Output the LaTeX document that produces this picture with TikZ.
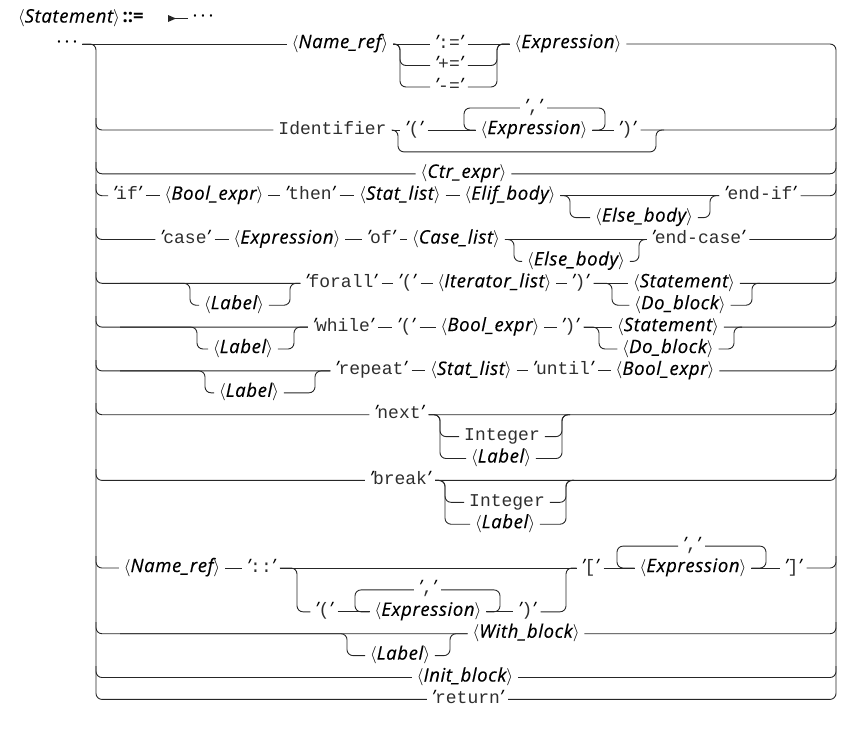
\documentclass[tikz,border=0pt]{standalone}
\usepackage{fontspec}
\setmainfont{Open Sans}
\setmonofont{Liberation Mono}
\newfontfamily\ntfam{Open Sans}[LetterSpace=3.5,ItalicFeatures={FakeBold=0.4}]
\newcommand{\ntf}{\fontsize{18.5}{21}\selectfont}
\newcommand{\tmf}{\fontsize{18}{20}\selectfont\ttfamily\color{black!82}}
\newcommand{\NT}[1]{{\ntf$\langle$\ntfam\itshape #1$\rangle$}}
\newcommand{\TM}[1]{{\ntf\itshape ’}{\tmf #1}{\ntf\itshape ’}}
\newcommand{\ID}[1]{{\tmf #1}}
\begin{document}
\begin{tikzpicture}[x=1pt,y=-1pt,
  every node/.style={inner xsep=5pt,inner ysep=0pt,text height=12pt,text depth=4pt,outer sep=0pt},
  rr/.style={draw=black!85,line width=0.9pt,rounded corners=6pt}]
\useasboundingbox (0,0) rectangle (848,729);
% title
\node[anchor=west,inner xsep=0pt] (title) at (18,18.5) {\NT{Statement} {\ntf\bfseries ::=}};
\node (tdots) at (203,18.5) {\ntf ·\,·\,·};
\coordinate (ts) at (168,18.5);
\draw[rr] (ts) -- (tdots.west);
\fill[black!85] (ts) ++(0,-3.5) -- ++(8,3.5) -- ++(-8,3.5) -- cycle;
% row 1
\node (dots) at (67,44) {\ntf ·\,·\,·};
\node (r1n) at (340,44) {\NT{Name\_ref}};
\node (r1a) at (449,44) {\TM{:=}};
\node (r1b) at (449,65.5) {\TM{+=}};
\node (r1c) at (449,87) {\TM{-=}};
\node (r1e) at (568,44) {\NT{Expression}};
% row 2
\node (r2i) at (332.5,130) {\ID{Identifier}};
\node (r2p) at (414,130) {\TM{(}};
\node (r2e) at (534,130) {\NT{Expression}};
\node (r2c) at (533.5,108) {\TM{,}};
\node (r2q) at (627,130) {\TM{)}};
% row 3
\node (r3) at (463.5,173.8) {\NT{Ctr\_expr}};
% row 4
\node (r4a) at (127,195.7) {\TM{if}};
\node (r4b) at (214,195.7) {\NT{Bool\_expr}};
\node (r4c) at (310,195.7) {\TM{then}};
\node (r4d) at (400,195.7) {\NT{Stat\_list}};
\node (r4e) at (510,195.7) {\NT{Elif\_body}};
\node (r4f) at (644,217.6) {\NT{Else\_body}};
\node (r4g) at (760,195.7) {\TM{end-if}};
% row 5
\node (r5a) at (185,239.5) {\TM{case}};
\node (r5b) at (287,239.5) {\NT{Expression}};
\node (r5c) at (381,239.5) {\TM{of}};
\node (r5d) at (456,239.5) {\NT{Case\_list}};
\node (r5e) at (576,261.4) {\NT{Else\_body}};
\node (r5f) at (698,239.5) {\TM{end-case}};
% row 6
\node (r6l) at (234,305.2) {\NT{Label}};
\node (r6a) at (341,283.3) {\TM{forall}};
\node (r6b) at (407,283.3) {\TM{(}};
\node (r6c) at (494.5,283.3) {\NT{Iterator\_list}};
\node (r6d) at (580,283.3) {\TM{)}};
\node (r6s) at (684,283.3) {\NT{Statement}};
\node (r6o) at (680,305.2) {\NT{Do\_block}};
% row 7
\node (r7l) at (243,349) {\NT{Label}};
\node (r7a) at (343,327.1) {\TM{while}};
\node (r7b) at (406,327.1) {\TM{(}};
\node (r7c) at (490,327.1) {\NT{Bool\_expr}};
\node (r7d) at (570,327.1) {\TM{)}};
\node (r7s) at (668,327.1) {\NT{Statement}};
\node (r7o) at (668,349) {\NT{Do\_block}};
% row 8
\node (r8l) at (249,392.8) {\NT{Label}};
\node (r8a) at (371,370.9) {\TM{repeat}};
\node (r8b) at (471,370.9) {\NT{Stat\_list}};
\node (r8c) at (563,370.9) {\TM{until}};
\node (r8d) at (665,370.9) {\NT{Bool\_expr}};
% row 9
\node (r9a) at (399,414.7) {\TM{next}};
\node (r9b) at (502,436.6) {\ID{Integer}};
\node (r9c) at (501,458.5) {\NT{Label}};
% row 10
\node (r10a) at (400,480.4) {\TM{break}};
\node (r10b) at (507,502.3) {\ID{Integer}};
\node (r10c) at (505,524.2) {\NT{Label}};
% row 11
\node (r11a) at (172,568) {\NT{Name\_ref}};
\node (r11b) at (261,568) {\TM{::}};
\node (r11c) at (590,568) {\TM{[}};
\node (r11d) at (693,568) {\NT{Expression}};
\node (r11k) at (691.5,546.1) {\TM{,}};
\node (r11e) at (793,568) {\TM{]}};
\node (r11f) at (324,611.8) {\TM{(}};
\node (r11g) at (428,611.8) {\NT{Expression}};
\node (r11h) at (427.5,589.9) {\TM{,}};
\node (r11i) at (527,611.8) {\TM{)}};
% row 12-14
\node (r12l) at (400,655.6) {\NT{Label}};
\node (r12w) at (526,633.7) {\NT{With\_block}};
\node (r13) at (465,677.5) {\NT{Init\_block}};
\node (ret) at (467.5,699.4) {\TM{return}};

% rails
\draw[rr] (dots.east) -- (r1n.west);
\draw[rr] (dots.east) -| (96,699.4) -- (ret.west);
\draw[rr] (r1e.east) -| (836,699.4) -- (ret.east);
% row 1
\draw[rr] (r1n.east) -- (r1a.west);
\draw[rr] (r1n.east) -| (400,65.5) -- (r1b.west);
\draw[rr] (r1n.east) -| (400,87) -- (r1c.west);
\draw[rr] (r1a.east) -- (r1e.west);
\draw[rr] (r1b.east) -| (497,44) -- (r1e.west);
\draw[rr] (r1c.east) -| (497,44) -- (r1e.west);
% row 2
\draw[rr] (96,118) |- (r2i.west);
\draw[rr] (r2i.east) -- (r2p.west);
\draw[rr] (r2p.east) -- (r2e.west);
\draw[rr] (r2e.east) -- (r2q.west);
\draw[rr] (r2e.east) -| (605,108) -- (r2c.east);
\draw[rr] (r2c.west) -| (464,130) -- (r2e.west);
\draw[rr] (r2i.east) -| (398,151.9) -| (656,130) -- ++(8,0);
\draw[rr] (r2q.east) -| (836,118);
% row 3
\draw[rr] (96,162) |- (r3.west);
\draw[rr] (r3.east) -| (836,162);
% row 4
\draw[rr] (96,184) |- (r4a.west);
\draw[rr] (r4a.east) -- (r4b.west);
\draw[rr] (r4b.east) -- (r4c.west);
\draw[rr] (r4c.east) -- (r4d.west);
\draw[rr] (r4d.east) -- (r4e.west);
\draw[rr] (r4e.east) -- (r4g.west);
\draw[rr] (r4e.east) -| (570,217.6) -- (r4f.west);
\draw[rr] (r4f.east) -| (710,195.7) -- (r4g.west);
\draw[rr] (r4g.east) -| (836,184);
% row 5
\draw[rr] (96,228) |- (r5a.west);
\draw[rr] (r5a.east) -- (r5b.west);
\draw[rr] (r5b.east) -- (r5c.west);
\draw[rr] (r5c.east) -- (r5d.west);
\draw[rr] (r5d.east) -- (r5f.west);
\draw[rr] (r5d.east) -| (514,261.4) -- (r5e.west);
\draw[rr] (r5e.east) -| (639,239.5) -- (r5f.west);
\draw[rr] (r5f.east) -| (836,228);
% row 6
\draw[rr] (96,272) |- (r6a.west);
\draw[rr] (120,283.3) -| (190,305.2) -- (r6l.west);
\draw[rr] (r6l.east) -| (290,283.3) -- (r6a.west);
\draw[rr] (r6a.east) -- (r6b.west);
\draw[rr] (r6b.east) -- (r6c.west);
\draw[rr] (r6c.east) -- (r6d.west);
\draw[rr] (r6d.east) -- (r6s.west);
\draw[rr] (r6d.east) -| (612,305.2) -- (r6o.west);
\draw[rr] (r6o.east) -| (752,283.3) -- ++(8,0);
\draw[rr] (r6s.east) -| (836,272);
% row 7
\draw[rr] (96,316) |- (r7a.west);
\draw[rr] (120,327.1) -| (197,349) -- (r7l.west);
\draw[rr] (r7l.east) -| (294,327.1) -- (r7a.west);
\draw[rr] (r7a.east) -- (r7b.west);
\draw[rr] (r7b.east) -- (r7c.west);
\draw[rr] (r7c.east) -- (r7d.west);
\draw[rr] (r7d.east) -- (r7s.west);
\draw[rr] (r7d.east) -| (599,349) -- (r7o.west);
\draw[rr] (r7o.east) -| (734,327.1) -- ++(8,0);
\draw[rr] (r7s.east) -| (836,316);
% row 8
\draw[rr] (96,360) |- (r8a.west);
\draw[rr] (120,370.9) -| (205,392.8) -- (r8l.west);
\draw[rr] (r8l.east) -| (315,370.9) -- (r8a.west);
\draw[rr] (r8a.east) -- (r8b.west);
\draw[rr] (r8b.east) -- (r8c.west);
\draw[rr] (r8c.east) -- (r8d.west);
\draw[rr] (r8d.east) -| (836,360);
% row 9
\draw[rr] (96,403) |- (r9a.west);
\draw[rr] (r9a.east) -| (836,403);
\draw[rr] (r9a.east) -| (440,436.6) -- (r9b.west);
\draw[rr] (r9a.east) -| (440,458.5) -- (r9c.west);
\draw[rr] (r9b.east) -| (562,414.7) -- ++(8,0);
\draw[rr] (r9c.east) -| (562,414.7) -- ++(8,0);
% row 10
\draw[rr] (96,469) |- (r10a.west);
\draw[rr] (r10a.east) -| (836,469);
\draw[rr] (r10a.east) -| (445,502.3) -- (r10b.west);
\draw[rr] (r10a.east) -| (445,524.2) -- (r10c.west);
\draw[rr] (r10b.east) -| (566,480.4) -- ++(8,0);
\draw[rr] (r10c.east) -| (566,480.4) -- ++(8,0);
% row 11
\draw[rr] (96,556) |- (r11a.west);
\draw[rr] (r11a.east) -- (r11b.west);
\draw[rr] (r11b.east) -- (r11c.west);
\draw[rr] (r11b.east) -| (297,611.8) -- (r11f.west);
\draw[rr] (r11f.east) -- (r11g.west);
\draw[rr] (r11g.east) -- (r11i.west);
\draw[rr] (r11g.east) -| (500,589.9) -- (r11h.east);
\draw[rr] (r11h.west) -| (355,611.8) -- (r11g.west);
\draw[rr] (r11i.east) -| (566,568) -- (r11c.west);
\draw[rr] (r11c.east) -- (r11d.west);
\draw[rr] (r11d.east) -- (r11e.west);
\draw[rr] (r11d.east) -| (766,546.1) -- (r11k.east);
\draw[rr] (r11k.west) -| (617,568) -- (r11d.west);
\draw[rr] (r11e.east) -| (836,556);
% row 12
\draw[rr] (96,622) |- (r12w.west);
\draw[rr] (120,633.7) -| (347,655.6) -- (r12l.west);
\draw[rr] (r12l.east) -| (450,633.7) -- (r12w.west);
\draw[rr] (r12w.east) -| (836,622);
% row 13
\draw[rr] (96,666) |- (r13.west);
\draw[rr] (r13.east) -| (836,666);
\end{tikzpicture}
\end{document}
